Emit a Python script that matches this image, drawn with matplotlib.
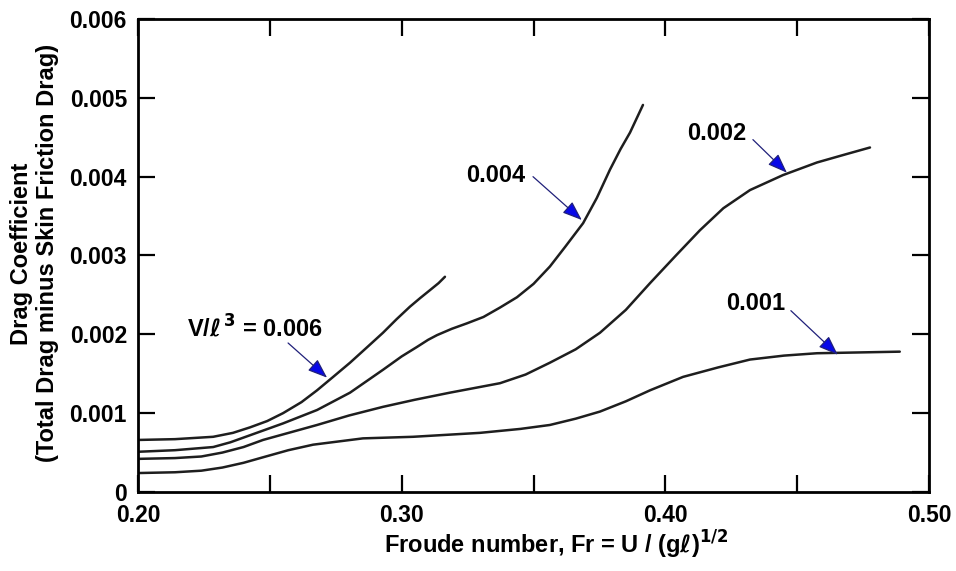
import matplotlib
matplotlib.use("Agg")
import matplotlib.pyplot as plt

plt.rcParams["font.family"] = ["Liberation Sans", "DejaVu Sans"]
plt.rcParams["font.weight"] = "bold"
plt.rcParams["mathtext.fontset"] = "dejavusans"

# curves, one per volume ratio V/l^3
fr_006 = [0.200, 0.214, 0.2285, 0.236, 0.2425, 0.249, 0.2550, 0.262, 0.2679, 0.274, 0.2804,
          0.287, 0.2929, 0.298, 0.3031, 0.307, 0.3107, 0.314, 0.3164]
cd_006 = [0.00066, 0.00067, 0.00070, 0.00075, 0.00082, 0.00090, 0.00100, 0.00114, 0.00129, 0.00146, 0.00164,
          0.00184, 0.00202, 0.00219, 0.00235, 0.00246, 0.00256, 0.00265, 0.00273]

fr_004 = [0.200, 0.214, 0.2285, 0.235, 0.2425, 0.255, 0.2679, 0.2804, 0.2929, 0.300, 0.3058,
          0.310, 0.3134, 0.319, 0.3248, 0.331, 0.3373, 0.3437, 0.350, 0.3562, 0.362, 0.3688,
          0.374, 0.3790, 0.383, 0.3866, 0.3915]
cd_004 = [0.00051, 0.00053, 0.00057, 0.00063, 0.00072, 0.00087, 0.00104, 0.00126, 0.00155, 0.00172, 0.00184,
          0.00193, 0.00199, 0.00207, 0.00214, 0.00222, 0.00234, 0.00247, 0.00264, 0.00286, 0.00311, 0.00341,
          0.00373, 0.00409, 0.00435, 0.00456, 0.00491]

fr_002 = [0.200, 0.214, 0.224, 0.232, 0.240, 0.2474, 0.2679, 0.280, 0.2929, 0.305, 0.3183, 0.3373,
          0.347, 0.3562, 0.366, 0.3752, 0.385, 0.3942, 0.404, 0.4131, 0.422, 0.4321, 0.4446,
          0.4575, 0.468, 0.4776]
cd_002 = [0.00042, 0.00043, 0.00045, 0.00050, 0.00057, 0.00066, 0.00085, 0.00097, 0.00108, 0.00117, 0.00126,
          0.00138, 0.00149, 0.00164, 0.00181, 0.00202, 0.00231, 0.00265, 0.00300, 0.00332, 0.00360, 0.00383,
          0.00402, 0.00418, 0.00428, 0.00437]

fr_001 = [0.200, 0.214, 0.224, 0.232, 0.240, 0.2474, 0.257, 0.2664, 0.2853, 0.3043, 0.3297, 0.345,
          0.3562, 0.366, 0.3752, 0.385, 0.3942, 0.4067, 0.420, 0.4321, 0.445, 0.4575, 0.4889]
cd_001 = [0.00024, 0.00025, 0.00027, 0.00031, 0.00037, 0.00044, 0.00053, 0.00060, 0.00068, 0.00070, 0.00075,
          0.00080, 0.00085, 0.00093, 0.00102, 0.00115, 0.00129, 0.00146, 0.00158, 0.00168, 0.00173, 0.00176,
          0.00178]

xticks = [0.20, 0.25, 0.30, 0.35, 0.40, 0.45, 0.50]
xticklabels = ["0.20", "", "0.30", "", "0.40", "", "0.50"]
yticks = [0, 0.001, 0.002, 0.003, 0.004, 0.005, 0.006]
yticklabels = ["0", "0.001", "0.002", "0.003", "0.004", "0.005", "0.006"]

fig = plt.figure(figsize=(9.56, 5.71), dpi=100)
ax = fig.add_axes([0.1444, 0.1384, 0.8274, 0.8283])

line_kw = dict(color="#1e1e1e", lw=1.8, solid_capstyle="round", solid_joinstyle="round")
for fr, cd in [(fr_006, cd_006), (fr_004, cd_004), (fr_002, cd_002), (fr_001, cd_001)]:
    ax.plot(fr, cd, **line_kw)

ax.set_xlim(0.20, 0.50)
ax.set_ylim(0, 0.006)
ax.set_xticks(xticks)
ax.set_xticklabels(xticklabels)
ax.set_yticks(yticks)
ax.set_yticklabels(yticklabels)
ax.tick_params(direction="in", length=12, width=1.6, labelsize=16.5, top=True, right=True)
ax.tick_params(axis="x", pad=9)
ax.tick_params(axis="y", pad=8)
for s in ax.spines.values():
    s.set_linewidth(2)

# annotations with blue arrows
arrow = dict(arrowstyle="-|>,head_length=1.2,head_width=0.45", fc="#0808e8", ec="#20207a",
             lw=0.9, shrinkA=0, shrinkB=0)
ax.annotate("", xy=(0.2717, 0.00145), xytext=(0.2569, 0.00189), arrowprops=arrow)
ax.text(0.2185, 0.00208, r"V/$\ell$$^{\,3}$ = 0.006", fontsize=17, va="center")
ax.annotate("", xy=(0.3683, 0.00345), xytext=(0.3498, 0.00400), arrowprops=arrow)
ax.text(0.3243, 0.00402, "0.004", fontsize=17, va="center")
ax.annotate("", xy=(0.4461, 0.00405), xytext=(0.4332, 0.00447), arrowprops=arrow)
ax.text(0.4082, 0.00455, "0.002", fontsize=17, va="center")
ax.annotate("", xy=(0.4654, 0.00174), xytext=(0.4476, 0.00230), arrowprops=arrow)
ax.text(0.4229, 0.00239, "0.001", fontsize=17, va="center")

fig.text(0.023, 0.555, "Drag Coefficient", rotation=90, fontsize=17, ha="center", va="center")
fig.text(0.050, 0.557, "(Total Drag minus Skin Friction Drag)", rotation=90, fontsize=17,
         ha="center", va="center")
fig.text(0.582, 0.045, r"Froude number, Fr = U / (g$\ell$)$^{\mathbf{1/2}}$", fontsize=17,
         ha="center", va="center")

fig.savefig("out.png", dpi=100, facecolor="white")
